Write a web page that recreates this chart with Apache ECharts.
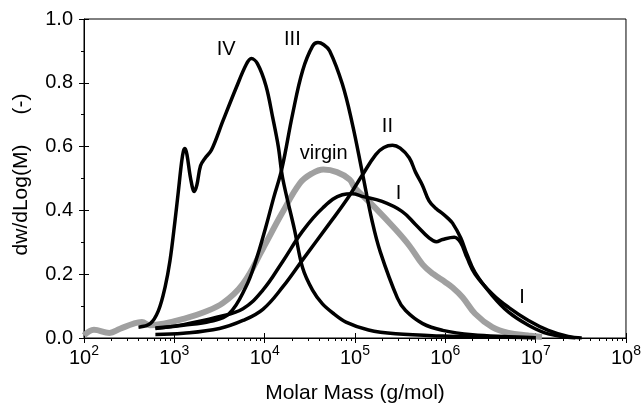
<!DOCTYPE html>
<html>
<head>
<meta charset="utf-8">
<script src="https://cdn.jsdelivr.net/npm/echarts@6/dist/echarts.min.js"></script>
<style>
html,body{margin:0;padding:0;background:#fff;}
#chart{width:644px;height:409px;}
</style>
</head>
<body>
<div id="chart"></div>
<script>
// Molar mass (g/mol) and dw/dLog(M) pairs
const virginM = [100,129,191,251,355,437,537,759,1259,2089,3467,5754,9550,15490,24550,33110,44670,63100,87100,100000,158500,281800,398100,562300,741300,1000000,1202000,1549000,2138000,3311000,5012000,8318000,11750000];
const virginW = [0.008,0.026,0.016,0.029,0.045,0.050,0.040,0.045,0.060,0.080,0.110,0.170,0.280,0.390,0.485,0.515,0.528,0.520,0.497,0.470,0.415,0.340,0.290,0.230,0.200,0.175,0.158,0.128,0.076,0.034,0.016,0.008,0.003];

const ivM = [401,540,667,789,895,1016,1107,1202,1259,1312,1380,1514,1663,1778,1950,2178,2576,3467,4864,6266,7112,8318,10350,12300,14160,15850,21380,26300,33880,43650,58880,79430,141300,281800,933300,3162000,10000000];
const ivW = [0.034,0.045,0.086,0.159,0.242,0.366,0.459,0.550,0.585,0.594,0.575,0.500,0.459,0.480,0.540,0.563,0.589,0.682,0.786,0.858,0.876,0.860,0.790,0.690,0.600,0.500,0.340,0.220,0.150,0.107,0.075,0.050,0.025,0.013,0.006,0.003,0.001];

const iiiM = [617,1259,2512,4036,6166,7943,10230,12590,15490,20420,26300,33880,38900,44670,52480,72440,93330,120200,154900,190500,295100,363100,562300,933300,1995000,5012000,10000000];
const iiiW = [0.031,0.040,0.052,0.076,0.159,0.240,0.345,0.440,0.530,0.703,0.838,0.915,0.926,0.920,0.900,0.796,0.672,0.520,0.366,0.270,0.125,0.086,0.045,0.024,0.010,0.004,0.001];

const iM = [617,1259,2951,5754,9550,15850,26300,43650,72440,93330,120200,199500,331100,467700,660700,794300,933300,1259000,1479000,1738000,2138000,3311000,5012000,8318000,13800000,22910000,32360000];
const iW = [0.030,0.042,0.065,0.092,0.150,0.240,0.335,0.407,0.449,0.452,0.444,0.428,0.397,0.356,0.314,0.302,0.309,0.316,0.299,0.252,0.200,0.138,0.096,0.055,0.024,0.005,0.000];

const iiM = [617,1259,3162,5754,9550,15850,26300,52480,79430,120200,169800,208900,260000,316200,398100,467700,556000,660700,794300,933300,1072000,1202000,1479000,1738000,2138000,3311000,5012000,8318000,13800000,27540000];
const iiW = [0.011,0.015,0.030,0.055,0.090,0.160,0.245,0.360,0.430,0.510,0.575,0.597,0.604,0.595,0.565,0.520,0.480,0.430,0.405,0.390,0.375,0.360,0.314,0.262,0.205,0.133,0.081,0.040,0.013,0.000];

const annText = ['IV','III','II','virgin','I','I'];
const annM = [3740,20270,228600,45080,302700,7050000];
const annW = [0.905,0.935,0.6625,0.5785,0.454,0.1275];

const xTickMinor = [];
[100,1000,10000,100000,1000000,10000000].forEach(d=>{for(let k=2;k<=9;k++) xTickMinor.push(d*k);});

const FONT = "'Liberation Sans', Arial, sans-serif";
const zip = (a,b)=>a.map((v,i)=>[v,b[i]]);

const chart = echarts.init(document.getElementById('chart'), null, {renderer:'canvas'});
const logAxisBase = {type:'log', logBase:10, min:100, max:1e8, gridIndex:0, splitLine:{show:false}};
const valAxisBase = {type:'value', min:0, max:1, interval:0.2, gridIndex:0, splitLine:{show:false}};

const option = {
  animation:false,
  backgroundColor:'#fff',
  textStyle:{fontFamily:FONT},
  grid:{left:84,right:15,top:19,bottom:68,show:true,borderColor:'#000',borderWidth:1,backgroundColor:'transparent'},
  xAxis:[
    Object.assign({}, logAxisBase, {
      position:'bottom',
      axisLine:{show:true,lineStyle:{color:'#000',width:1}},
      axisTick:{show:true,inside:false,length:5,lineStyle:{color:'#000'}},
      axisLabel:{show:true,margin:6,color:'#000',
        formatter:v=>'{b|10}{s|'+Math.round(Math.log10(v))+'}',
        rich:{b:{fontSize:20,fontFamily:FONT,color:'#000',lineHeight:24,verticalAlign:'bottom'},
              s:{fontSize:14,fontFamily:FONT,color:'#000',lineHeight:14,verticalAlign:'top'}}},
      name:'Molar Mass (g/mol)', nameLocation:'middle', nameGap:45,
      nameTextStyle:{fontSize:21,color:'#000',fontFamily:FONT}
    }),
    Object.assign({}, logAxisBase, {
      position:'bottom',
      axisLine:{show:false},
      axisTick:{show:true,inside:true,length:5,lineStyle:{color:'#000'}},
      axisLabel:{show:false}
    }),
    Object.assign({}, logAxisBase, {
      position:'bottom',
      axisLine:{show:false},
      axisTick:{show:true,inside:false,length:3,customValues:xTickMinor,lineStyle:{color:'#000'}},
      axisLabel:{show:false}
    })
  ],
  yAxis:[
    Object.assign({}, valAxisBase, {
      position:'left',
      axisLine:{show:true,lineStyle:{color:'#000',width:1}},
      axisTick:{show:true,inside:false,length:5,lineStyle:{color:'#000'}},
      minorTick:{show:true,splitNumber:2,length:3,lineStyle:{color:'#000'}},
      axisLabel:{show:true,margin:11,fontSize:20,color:'#000',formatter:v=>v.toFixed(1)}
    }),
    Object.assign({}, valAxisBase, {
      position:'left',
      axisLine:{show:false},
      axisTick:{show:true,inside:true,length:5,lineStyle:{color:'#000'}},
      axisLabel:{show:false}
    })
  ],
  graphic:[
    {type:'text',x:21,y:200,rotation:Math.PI/2,style:{text:'dw/dLog(M)',fontSize:21,fontFamily:FONT,fill:'#000',align:'center',verticalAlign:'middle'}},
    {type:'text',x:21,y:104,rotation:Math.PI/2,style:{text:'(-)',fontSize:21,fontFamily:FONT,fill:'#000',align:'center',verticalAlign:'middle'}}
  ],
  series:[
    {type:'line',name:'virgin',data:zip(virginM,virginW),showSymbol:false,smooth:0.4,lineStyle:{color:'#a0a0a0',width:6},z:2},
    {type:'line',name:'IV',data:zip(ivM,ivW),showSymbol:false,smooth:0.35,lineStyle:{color:'#000',width:3.5},z:3},
    {type:'line',name:'III',data:zip(iiiM,iiiW),showSymbol:false,smooth:0.4,lineStyle:{color:'#000',width:3.5},z:3},
    {type:'line',name:'II',data:zip(iiM,iiW),showSymbol:false,smooth:0.4,lineStyle:{color:'#000',width:3.5},z:3},
    {type:'line',name:'I',data:zip(iM,iW),showSymbol:false,smooth:0.4,lineStyle:{color:'#000',width:3.5},z:3},
    {type:'scatter',name:'labels',data:annText.map((t,i)=>({name:t,value:[annM[i],annW[i]]})),
      symbolSize:0,silent:true,z:5,itemStyle:{opacity:1},
      label:{show:true,position:'inside',formatter:p=>p.name,fontSize:20,color:'#000',opacity:1,fontFamily:FONT}}
  ]
};
chart.setOption(option);
</script>
</body>
</html>
